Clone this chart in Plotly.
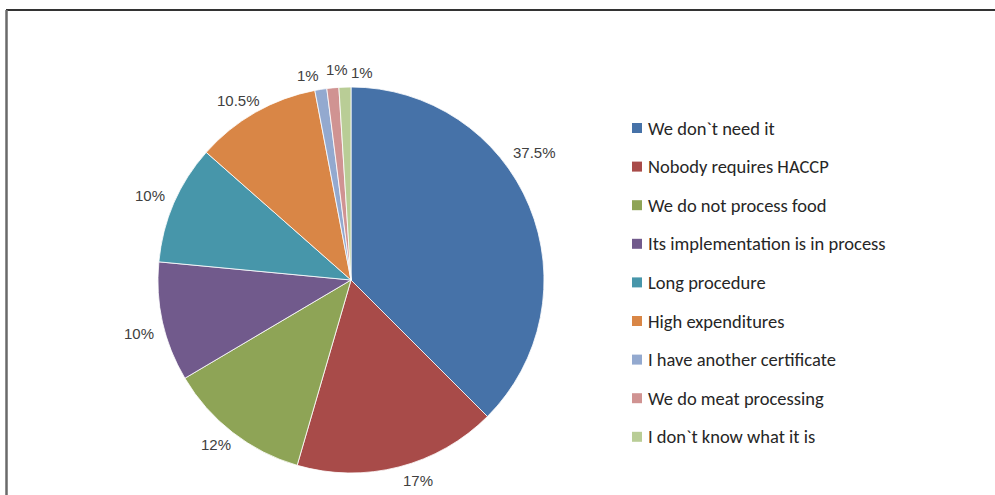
import math
import plotly.graph_objects as go

# Reasons for not implementing HACCP (share of respondents, %)
reasons = [
    "We don`t need it",
    "Nobody requires HACCP",
    "We do not process food",
    "Its implementation is in process",
    "Long procedure",
    "High expenditures",
    "I have another certificate",
    "We do meat processing",
    "I don`t know what it is",
]
shares = [37.5, 17, 12, 10, 10, 10.5, 1, 1, 1]
share_labels = ["37.5%", "17%", "12%", "10%", "10%", "10.5%", "1%", "1%", "1%"]
colors = ["#4672A8", "#A84B49", "#8EA456", "#715A8C", "#4796AA",
          "#D98646", "#93A9CF", "#D09392", "#B9CD96"]

# Label placement tweaks (best-fit style): angular shift from the slice
# middle in degrees, and distance of the label centre from the pie centre
label_shift_deg = [-12.3, -4.0, 1.5, -1.5, -0.7, -2.3, -3.0, 1.5, 4.8]
label_dist_px = [224, 211, 213, 219, 218, 212, 209, 211, 208]

W, H = 995, 495
cx, cy, R = 351, 280, 193  # pie centre and radius in pixels

fig = go.Figure()
fig.add_trace(go.Pie(
    labels=reasons,
    values=shares,
    text=share_labels,
    textinfo="none",
    sort=False,
    direction="clockwise",
    rotation=0,
    marker=dict(colors=colors, line=dict(color="white", width=0.8)),
    domain=dict(x=[(cx - R) / W, (cx + R) / W], y=[1 - (cy + R) / H, 1 - (cy - R) / H]),
    showlegend=False,
    hoverinfo="label+text",
))

annotations = []
shapes = []

# Percentage labels around the pie, positioned from each slice's mid-angle
total = sum(shares)
acc = 0.0
for val, txt, dang, dist in zip(shares, share_labels, label_shift_deg, label_dist_px):
    mid = (acc + val / 2) / total * 360 + dang
    acc += val
    a = math.radians(mid)
    px = cx + dist * math.sin(a)
    py = cy - dist * math.cos(a)
    annotations.append(dict(text=txt, xref="paper", yref="paper",
                            x=px / W, y=1 - py / H, xanchor="center", yanchor="middle",
                            showarrow=False,
                            font=dict(family="Liberation Sans, Arial", size=15, color="#404040")))

# Legend drawn as swatches + labels, one row per reason
row0, step = 128, 38.6
for i, (name, col) in enumerate(zip(reasons, colors)):
    yc = row0 + i * step
    shapes.append(dict(type="rect", xref="paper", yref="paper",
                       x0=632 / W, x1=642 / W, y0=1 - (yc + 5) / H, y1=1 - (yc - 5) / H,
                       fillcolor=col, line=dict(width=0)))
    annotations.append(dict(text=name, xref="paper", yref="paper",
                            x=646 / W, y=1 - yc / H, xanchor="left", yanchor="middle",
                            showarrow=False,
                            font=dict(family="Carlito, Lato, sans-serif", size=18.5, color="#262626")))

# Chart frame: top and left edges
shapes.append(dict(type="line", xref="paper", yref="paper", x0=6 / W, x1=1.0,
                   y0=1 - 10 / H, y1=1 - 10 / H, line=dict(color="#333333", width=2)))
shapes.append(dict(type="line", xref="paper", yref="paper", x0=6.5 / W, x1=6.5 / W,
                   y0=0, y1=1 - 10 / H, line=dict(color="#6a6a6a", width=2.5)))

fig.update_layout(
    width=W, height=H,
    margin=dict(l=0, r=0, t=0, b=0),
    paper_bgcolor="white",
    plot_bgcolor="white",
    shapes=shapes,
    annotations=annotations,
)

fig.write_html("out.html")
